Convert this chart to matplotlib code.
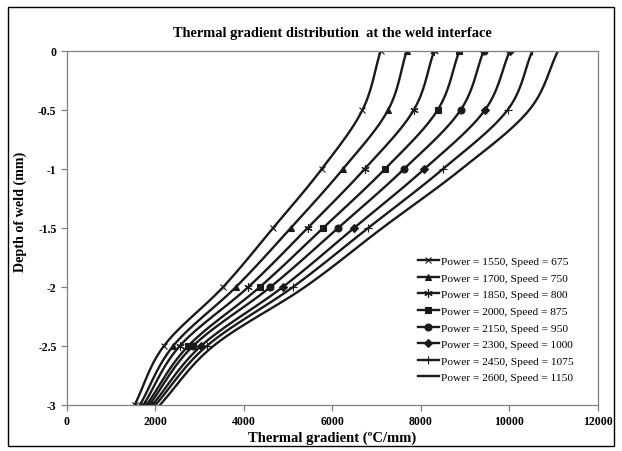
import numpy as np
import matplotlib
matplotlib.use("Agg")
import matplotlib.pyplot as plt
from matplotlib.patches import Rectangle

depth = [0, -0.5, -1, -1.5, -2, -2.5, -3]
powers = [1550, 1700, 1850, 2000, 2150, 2300, 2450, 2600]
speeds = [675, 750, 800, 875, 950, 1000, 1075, 1150]

g1550 = [7090, 6680, 5760, 4660, 3530, 2190, 1530]
g1700 = [7680, 7260, 6240, 5060, 3820, 2400, 1650]
g1850 = [8300, 7840, 6730, 5440, 4100, 2550, 1730]
g2000 = [8870, 8380, 7190, 5790, 4360, 2740, 1800]
g2150 = [9420, 8900, 7620, 6130, 4600, 2850, 1860]
g2300 = [10010, 9450, 8080, 6490, 4880, 3030, 1930]
g2450 = [10520, 9960, 8500, 6810, 5110, 3160, 2000]
g2600 = [11100, 10450, 8920, 7130, 5380, 3310, 2100]

series = [g1550, g1700, g1850, g2000, g2150, g2300, g2450, g2600]
markers = ["x", "^", (6, 2, 0), "s", "o", "D", "+", None]
msizes = [5, 5, 6, 5, 5, 4, 6, 0]


def smooth(xs, ys, n=20):
    # catmull-rom, like the smoothed lines of a spreadsheet chart
    p = np.column_stack([xs, ys]).astype(float)
    p = np.vstack([2 * p[0] - p[1], p, 2 * p[-1] - p[-2]])
    out = []
    t = np.linspace(0, 1, n)[:, None]
    for i in range(1, len(p) - 2):
        p0, p1, p2, p3 = p[i - 1], p[i], p[i + 1], p[i + 2]
        seg = 0.5 * ((2 * p1) + (-p0 + p2) * t + (2 * p0 - 5 * p1 + 4 * p2 - p3) * t ** 2
                     + (-p0 + 3 * p1 - 3 * p2 + p3) * t ** 3)
        out.append(seg)
    out = np.vstack(out)
    return out[:, 0], out[:, 1]


plt.rcParams["font.family"] = "Liberation Serif"

fig = plt.figure(figsize=(6.22, 4.52), dpi=100)
ax = fig.add_axes([0.1077, 0.1018, 0.8533, 0.7832])

for vals, m, ms, pw, sp in zip(series, markers, msizes, powers, speeds):
    sx, sy = smooth(vals, depth)
    ax.plot(sx, sy, color="#1a1a1a", lw=1.7, solid_capstyle="round")
    ax.plot(vals, depth, linestyle="none", marker=m, markersize=ms, color="#1a1a1a",
            markeredgewidth=0.8)
    # legend proxy
    ax.plot([], [], color="#1a1a1a", lw=1.7, marker=m, markersize=ms,
            markeredgewidth=0.8, label=f"Power = {pw}, Speed = {sp}")

ax.set_xlim(0, 12000)
ax.set_ylim(-3, 0)
ax.set_xticks(np.arange(0, 12001, 2000))
ax.set_yticks([0, -0.5, -1, -1.5, -2, -2.5, -3])
ax.set_yticklabels(["0", "-0.5", "-1", "-1.5", "-2", "-2.5", "-3"])
for s in ax.spines.values():
    s.set_color("#808080")
    s.set_linewidth(0.9)
ax.tick_params(direction="out", length=4, width=0.9, color="#808080", labelsize=8.5)
for lab in ax.get_xticklabels() + ax.get_yticklabels():
    lab.set_fontweight("bold")

ax.set_title("Thermal gradient distribution  at the weld interface", fontsize=10.4,
             fontweight="bold", pad=11)
ax.set_xlabel("Thermal gradient (ºC/mm)", fontsize=10.5, fontweight="bold", labelpad=2)
ax.set_ylabel("Depth of weld (mm)", fontsize=10.2, fontweight="bold")
ax.yaxis.set_label_coords(-0.076, 0.547)

ax.legend(loc="lower right", frameon=False, fontsize=8.2, handlelength=1.9,
          handletextpad=0.2, labelspacing=0.58, bbox_to_anchor=(0.975, 0.035))

fig.patches.append(Rectangle((0.013, 0.01), 0.974, 0.973, transform=fig.transFigure,
                             fill=False, edgecolor="black", lw=1.0))

fig.savefig("out.png", dpi=100)
